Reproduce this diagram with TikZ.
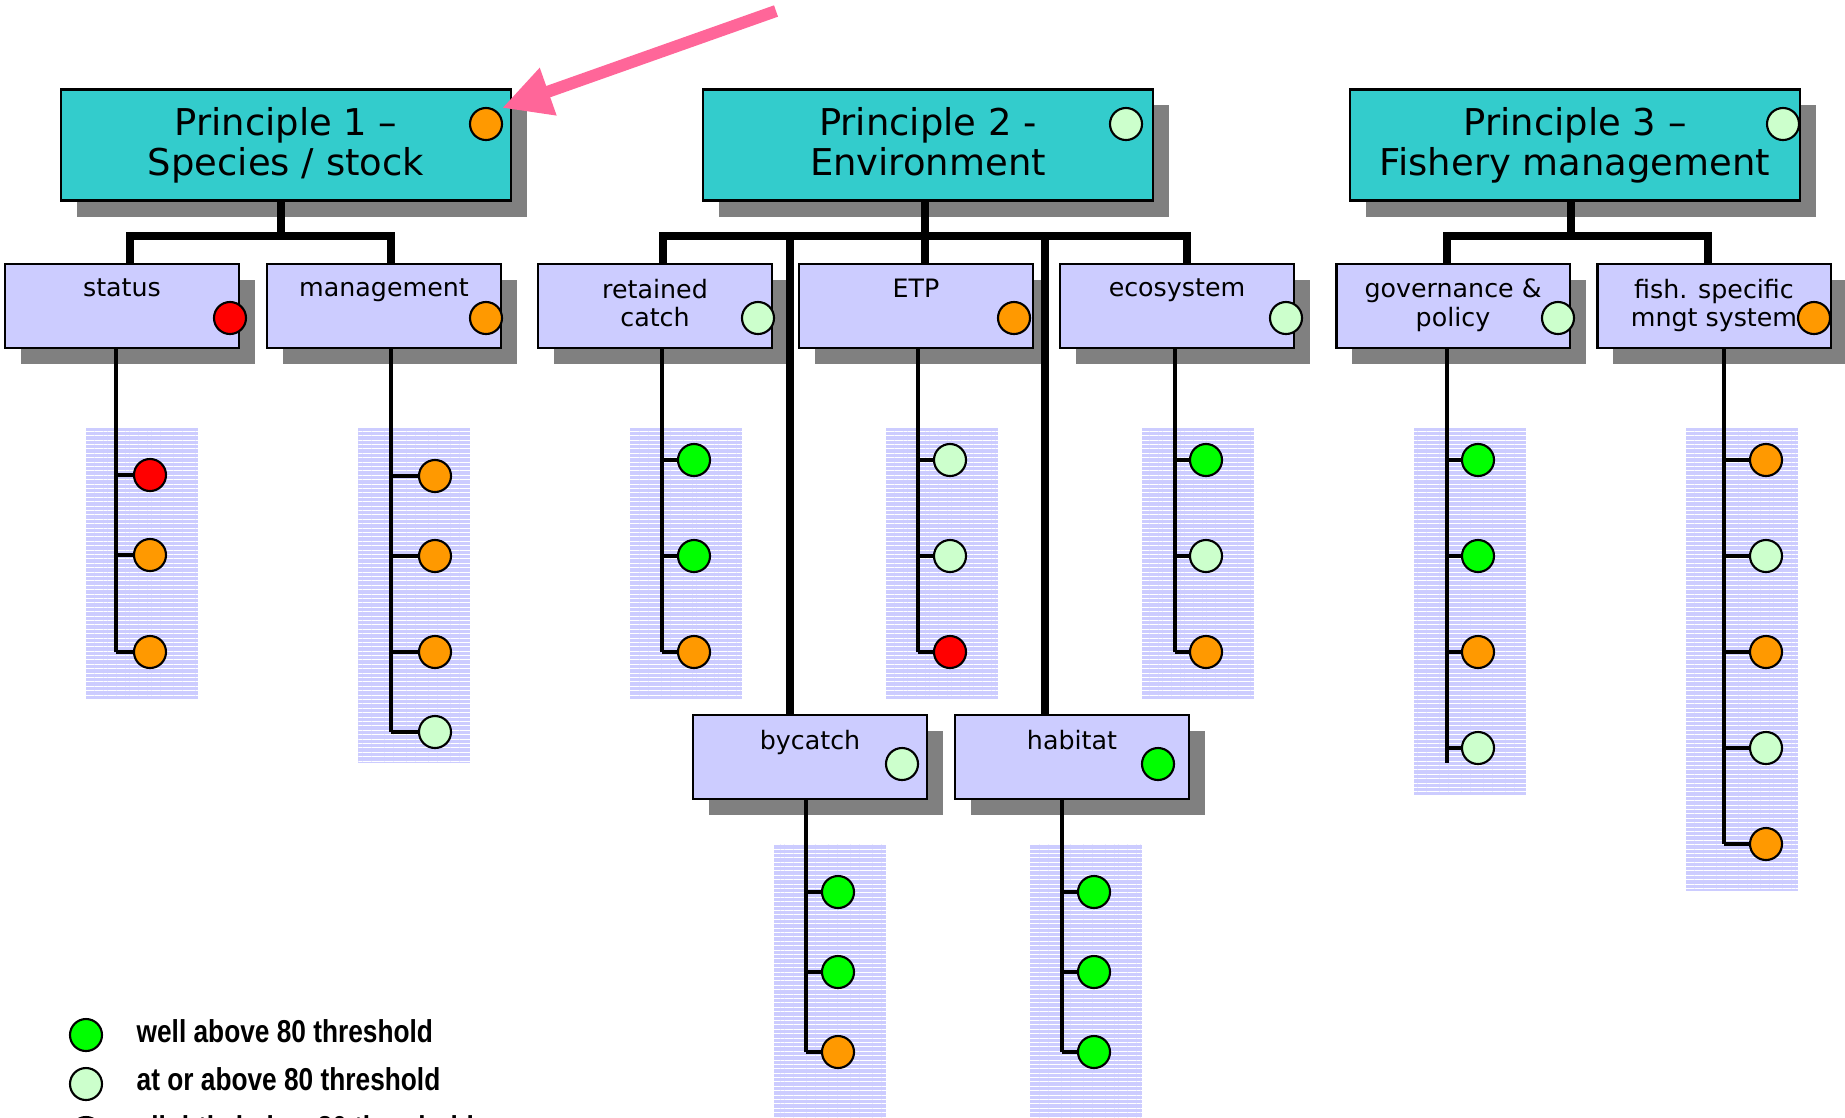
\documentclass[tikz,border=0pt]{standalone}
\usepackage{fontspec}
\setmainfont{DejaVu Sans}
\newfontfamily\legendfont[FakeStretch=0.83]{Liberation Sans}
\usetikzlibrary{arrows.meta}
\usetikzlibrary{shadows}
\usetikzlibrary{patterns.meta}
\definecolor{princcol}{HTML}{33CCCC}
\definecolor{subcol}{HTML}{CCCCFF}
\definecolor{shadowgray}{HTML}{808080}
\definecolor{wellabove}{HTML}{00FF00}
\definecolor{atabove}{HTML}{CCFFCC}
\definecolor{slightbelow}{HTML}{FF9900}
\definecolor{below}{HTML}{FF0000}
\definecolor{arrowpink}{HTML}{FF6699}

\begin{document}
\begin{tikzpicture}[x=0.01cm, y=-0.01cm,
  princ/.style={draw, line width=0.6pt, fill=princcol, minimum width=4.5cm, minimum height=1.11cm, align=center, font=\fontsize{10.5}{11.4}\selectfont, drop shadow={shadow xshift=0.16cm, shadow yshift=-0.16cm, fill=shadowgray, opacity=1}},
  subbox/.style={draw, line width=0.6pt, fill=subcol, minimum width=2.33cm, minimum height=0.84cm, drop shadow={shadow xshift=0.16cm, shadow yshift=-0.16cm, fill=shadowgray, opacity=1}},
  subtext/.style={anchor=north, inner sep=0pt, align=center, font=\fontsize{7.2}{8.1}\selectfont},
  leafdot/.style={circle, draw, line width=0.6pt, minimum size=0.32cm, inner sep=0pt},
  busline/.style={line width=2.3pt},
  stemline/.style={line width=0.9pt},
  panel/.style={fill=subcol, postaction={pattern={Lines[angle=0,distance=1.25pt,line width=0.2pt]}, pattern color=white}},
  legendtext/.style={anchor=base west, inner sep=0pt, font=\legendfont\fontsize{9}{10}\selectfont\bfseries}]
\useasboundingbox (0,0) rectangle (1845,1117);
\fill [white] (0,0) rectangle (1845,1117);

\fill [panel] (86,428) rectangle (198,699);
\fill [panel] (358,428) rectangle (470,763);
\fill [panel] (630,428) rectangle (742,699);
\fill [panel] (886,428) rectangle (998,699);
\fill [panel] (1142,428) rectangle (1254,699);
\fill [panel] (1414,428) rectangle (1526,795);
\fill [panel] (1686,428) rectangle (1798,891);
\fill [panel] (774,844) rectangle (886,1125);
\fill [panel] (1030,844) rectangle (1142,1125);

\node [princ] (p1) at (286,145) {Principle 1 –\\Species / stock};
\node [princ] (p2) at (928,145) {Principle 2 -\\Environment\vphantom{y}};
\node [princ] (p3) at (1575,145) {Principle 3 –\\Fishery management};
\node [leafdot, fill=slightbelow] (p1-d) at (486,124) {};
\node [leafdot, fill=atabove] (p2-d) at (1126,124) {};
\node [leafdot, fill=atabove] (p3-d) at (1783,124) {};

\node [subbox] (status) at (122,306) {};
\node [subbox] (management) at (384,306) {};
\node [subbox] (retained) at (655,306) {};
\node [subbox] (etp) at (916,306) {};
\node [subbox] (ecosystem) at (1177,306) {};
\node [subbox] (governance) at (1453,306) {};
\node [subbox] (fishspec) at (1714,306) {};
\node [subbox] (bycatch) at (810,757) {};
\node [subbox] (habitat) at (1072,757) {};

\node [subtext] (status-t) at ([yshift=-0.155cm]status.north) {status};
\node [subtext] (management-t) at ([yshift=-0.155cm]management.north) {management};
\node [subtext] (retained-t) at ([yshift=-0.155cm]retained.north) {retained\\catch};
\node [subtext] (etp-t) at ([yshift=-0.155cm]etp.north) {ETP};
\node [subtext] (ecosystem-t) at ([yshift=-0.155cm]ecosystem.north) {ecosystem};
\node [subtext] (governance-t) at ([yshift=-0.155cm]governance.north) {governance \&\\policy};
\node [subtext] (fishspec-t) at ([yshift=-0.155cm]fishspec.north) {fish. specific\\mngt system};
\node [subtext] (bycatch-t) at ([yshift=-0.155cm]bycatch.north) {bycatch};
\node [subtext] (habitat-t) at ([yshift=-0.155cm]habitat.north) {habitat};

\node [leafdot, fill=below] (status-d) at (230,318) {};
\node [leafdot, fill=slightbelow] (management-d) at (486,318) {};
\node [leafdot, fill=atabove] (retained-d) at (758,318) {};
\node [leafdot, fill=slightbelow] (etp-d) at (1014,318) {};
\node [leafdot, fill=atabove] (ecosystem-d) at (1286,318) {};
\node [leafdot, fill=atabove] (governance-d) at (1558,318) {};
\node [leafdot, fill=slightbelow] (fishspec-d) at (1814,318) {};
\node [leafdot, fill=atabove] (bycatch-d) at (902,764) {};
\node [leafdot, fill=wellabove] (habitat-d) at (1158,764) {};

\coordinate (bar) at (0,236);
\coordinate (p1-bot) at ([xshift=-0.05cm]p1.south);
\coordinate (p2-bot) at ([xshift=-0.03cm]p2.south);
\coordinate (p3-bot) at ([xshift=-0.04cm]p3.south);
\coordinate (status-top) at ([xshift=0.08cm]status.north);
\coordinate (management-top) at ([xshift=0.07cm]management.north);
\coordinate (retained-top) at ([xshift=0.08cm]retained.north);
\coordinate (ecosystem-top) at ([xshift=0.1cm]ecosystem.north);
\coordinate (governance-top) at ([xshift=-0.06cm]governance.north);
\coordinate (fishspec-top) at ([xshift=-0.06cm]fishspec.north);
\coordinate (bycatch-top) at ([xshift=-0.2cm]bycatch.north);
\coordinate (habitat-top) at ([xshift=-0.27cm]habitat.north);
\draw [busline] (p1-bot) -- (p1-bot |- bar);
\draw [busline] (status-top) |- (p1-bot |- bar) -| (management-top);
\draw [busline] (p2-bot) -- (p2-bot |- etp.north);
\draw [busline] (retained-top) |- (p2-bot |- bar) -| (ecosystem-top);
\draw [busline] (bycatch-top) -- (bycatch-top |- bar);
\draw [busline] (habitat-top) -- (habitat-top |- bar);
\draw [busline] (p3-bot) -- (p3-bot |- bar);
\draw [busline] (governance-top) |- (p3-bot |- bar) -| (fishspec-top);

\coordinate (status-s) at (116,652);
\draw [stemline] (status.south -| status-s) -- (status-s);
\foreach \y/\c [count=\i] in {475/below,555/slightbelow,652/slightbelow} {
  \node [leafdot, fill=\c] (status-\i) at (150,\y) {};
  \draw [stemline] (status-\i -| status-s) -- (status-\i);
}
\coordinate (management-s) at (391,732);
\draw [stemline] (management.south -| management-s) -- (management-s);
\foreach \y/\c [count=\i] in {476/slightbelow,556/slightbelow,652/slightbelow,732/atabove} {
  \node [leafdot, fill=\c] (management-\i) at (435,\y) {};
  \draw [stemline] (management-\i -| management-s) -- (management-\i);
}
\coordinate (retained-s) at (662,652);
\draw [stemline] (retained.south -| retained-s) -- (retained-s);
\foreach \y/\c [count=\i] in {460/wellabove,556/wellabove,652/slightbelow} {
  \node [leafdot, fill=\c] (retained-\i) at (694,\y) {};
  \draw [stemline] (retained-\i -| retained-s) -- (retained-\i);
}
\coordinate (etp-s) at (918,652);
\draw [stemline] (etp.south -| etp-s) -- (etp-s);
\foreach \y/\c [count=\i] in {460/atabove,556/atabove,652/below} {
  \node [leafdot, fill=\c] (etp-\i) at (950,\y) {};
  \draw [stemline] (etp-\i -| etp-s) -- (etp-\i);
}
\coordinate (ecosystem-s) at (1175,652);
\draw [stemline] (ecosystem.south -| ecosystem-s) -- (ecosystem-s);
\foreach \y/\c [count=\i] in {460/wellabove,556/atabove,652/slightbelow} {
  \node [leafdot, fill=\c] (ecosystem-\i) at (1206,\y) {};
  \draw [stemline] (ecosystem-\i -| ecosystem-s) -- (ecosystem-\i);
}
\coordinate (governance-s) at (1447,763);
\draw [stemline] (governance.south -| governance-s) -- (governance-s);
\foreach \y/\c [count=\i] in {460/wellabove,556/wellabove,652/slightbelow,748/atabove} {
  \node [leafdot, fill=\c] (governance-\i) at (1478,\y) {};
  \draw [stemline] (governance-\i -| governance-s) -- (governance-\i);
}
\coordinate (fishspec-s) at (1724,844);
\draw [stemline] (fishspec.south -| fishspec-s) -- (fishspec-s);
\foreach \y/\c [count=\i] in {460/slightbelow,556/atabove,652/slightbelow,748/atabove,844/slightbelow} {
  \node [leafdot, fill=\c] (fishspec-\i) at (1766,\y) {};
  \draw [stemline] (fishspec-\i -| fishspec-s) -- (fishspec-\i);
}
\coordinate (bycatch-s) at (806,1052);
\draw [stemline] (bycatch.south -| bycatch-s) -- (bycatch-s);
\foreach \y/\c [count=\i] in {892/wellabove,972/wellabove,1052/slightbelow} {
  \node [leafdot, fill=\c] (bycatch-\i) at (838,\y) {};
  \draw [stemline] (bycatch-\i -| bycatch-s) -- (bycatch-\i);
}
\coordinate (habitat-s) at (1062,1052);
\draw [stemline] (habitat.south -| habitat-s) -- (habitat-s);
\foreach \y/\c [count=\i] in {892/wellabove,972/wellabove,1052/wellabove} {
  \node [leafdot, fill=\c] (habitat-\i) at (1094,\y) {};
  \draw [stemline] (habitat-\i -| habitat-s) -- (habitat-\i);
}

\node [leafdot, fill=wellabove] (leg-1) at (86,1035) {};
\node [legendtext] (leg-1-t) at (136,1042) {well above 80 threshold};
\node [leafdot, fill=atabove] (leg-2) at (86,1084) {};
\node [legendtext] (leg-2-t) at (136,1090) {at or above 80 threshold};
\node [leafdot, fill=slightbelow] (leg-3) at (86,1133) {};
\node [legendtext] (leg-3-t) at (136,1138) {slightly below 80 threshold};

\coordinate (arrow-start) at (776,11);
\coordinate (arrow-tip) at (502,108);
\draw [arrowpink, line width=0.12cm, -{Triangle[length=0.49cm,width=0.47cm]}] (arrow-start) -- (arrow-tip);
\end{tikzpicture}
\end{document}
